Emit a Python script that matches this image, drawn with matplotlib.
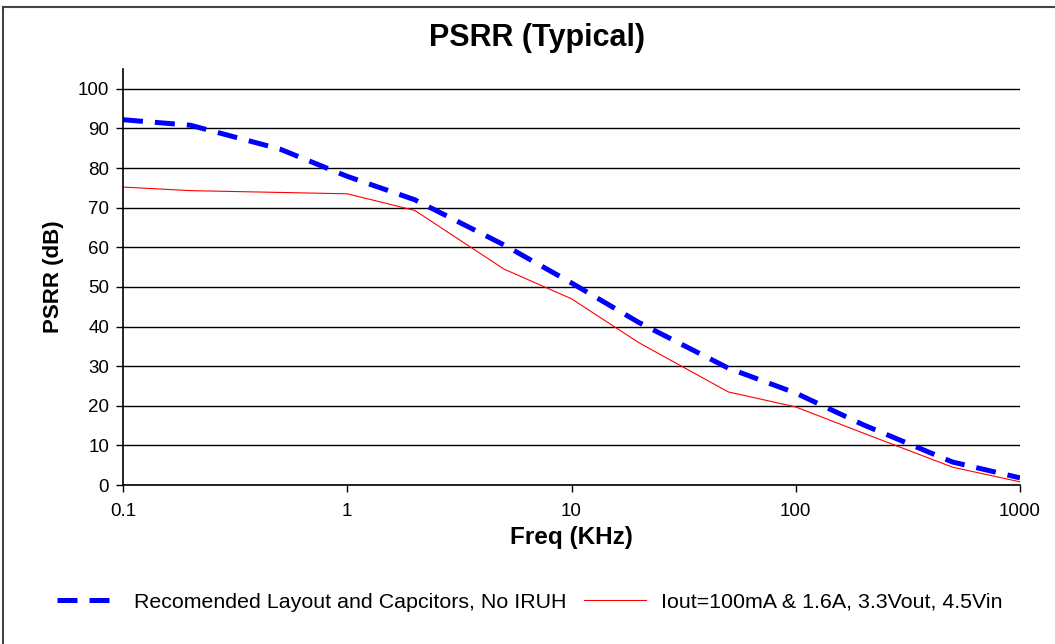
'''
PSRR (Typical) plot
'''
import numpy as np
import matplotlib as mpl
mpl.use('Agg')
import matplotlib.pyplot as plt
from matplotlib.lines import Line2D
from matplotlib.ticker import FixedLocator, NullLocator

mpl.rcParams['font.family'] = ['Liberation Sans', 'DejaVu Sans']

# -- data --
freq_blue = [0.1, 0.2, 0.5, 1, 2, 5, 10, 20, 50, 100, 200, 500, 1000]  # [KHz]
psrr_blue = [92.2, 90.8, 84.8, 77.9, 72.0, 60.6, 51.0, 41.0, 29.5, 23.2, 15.2, 5.8, 1.8]
freq_red = [0.1, 0.2, 1, 2, 5, 10, 20, 50, 100, 200, 500, 1000]
psrr_red = [75.2, 74.3, 73.5, 69.3, 54.5, 47.0, 35.9, 23.5, 19.7, 13.1, 4.5, 0.8]

label_blue = 'Recomended Layout and Capcitors, No IRUH'
label_red = 'Iout=100mA & 1.6A, 3.3Vout, 4.5Vin'
xticks = [0.1, 1, 10, 100, 1000]
xticklabels = ['0.1', '1', '10', '100', '1000']
yticks = np.arange(0, 101, 10)


def PSRR():
    fig = plt.figure(figsize=(10.55, 6.44), dpi=100)
    sub = fig.add_axes([123./1055, 1-485./644, (1020.-123)/1055, (485.-69)/644])

    sub.plot(freq_blue, psrr_blue, c='#0000ff', lw=3.6, dashes=(4, 2.4),
            solid_capstyle='butt', dash_capstyle='butt', label=label_blue)
    sub.plot(freq_red, psrr_red, c='#ff0000', lw=0.8, label=label_red)

    sub.set_xscale('log')
    sub.set_xlim([0.1, 1000])
    sub.set_ylim([0, 105])
    sub.xaxis.set_major_locator(FixedLocator(xticks))
    sub.xaxis.set_minor_locator(NullLocator())
    sub.set_xticklabels(xticklabels)
    sub.set_yticks(yticks)
    sub.tick_params(axis='both', direction='out', length=5, width=1, labelsize=13.5,
            colors='black', pad=5)
    sub.tick_params(axis='x', pad=8)
    sub.grid(axis='y', color='black', lw=1)
    sub.set_axisbelow(True)
    for sp in ['top', 'right']:
        sub.spines[sp].set_visible(False)
    for sp in ['left', 'bottom']:
        sub.spines[sp].set_linewidth(1.2)

    sub.set_xlabel('Freq (KHz)', fontsize=17.5, fontweight='bold', labelpad=4)
    sub.set_ylabel('PSRR (dB)', fontsize=16, fontweight='bold', labelpad=10)
    fig.text(537./1055, 1-38./644, 'PSRR (Typical)', fontsize=22, fontweight='bold',
            ha='center', va='center')

    fig.legend(loc='center', bbox_to_anchor=(530./1055, 1-602./644), ncol=2,
            frameon=False, fontsize=15.4, handlelength=2.9, columnspacing=0.8,
            handletextpad=0.7)

    # outer frame (top and left edges)
    fig.add_artist(Line2D([3./1055, 1], [1-7./644, 1-7./644], color='#444444', lw=1.5))
    fig.add_artist(Line2D([3./1055, 3./1055], [0, 1-7./644], color='#444444', lw=1.5))

    fig.savefig('out.png', dpi=100)
    plt.close()
    return None


if __name__=="__main__":
    PSRR()
